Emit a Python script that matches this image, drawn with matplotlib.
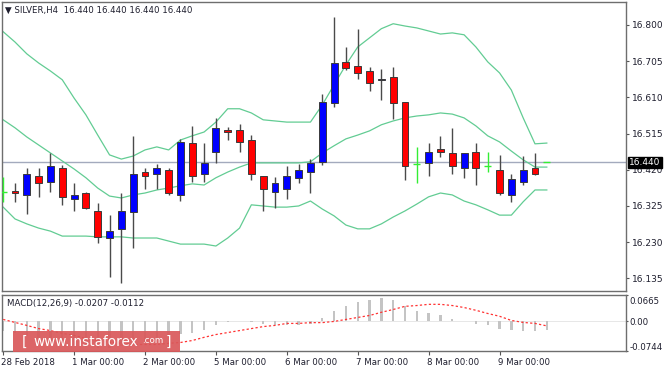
import matplotlib
matplotlib.use("Agg")
import matplotlib.pyplot as plt
from matplotlib.patches import Rectangle
from matplotlib.transforms import ScaledTranslation
import numpy as np

plt.rcParams["font.family"] = ["DejaVu Sans"]

# ── H4 bars, 28 Feb - 9 Mar 2018 ──────────────────────────
OPEN = [16.362, 16.364, 16.354, 16.404, 16.388, 16.425, 16.343, 16.359, 16.312, 16.241,
        16.265, 16.309, 16.414, 16.409, 16.420, 16.354, 16.490, 16.409, 16.467, 16.524,
        16.524, 16.498, 16.404, 16.362, 16.370, 16.399, 16.414, 16.440, 16.595, 16.703,
        16.692, 16.679, 16.655, 16.664, 16.598, 16.435, 16.438, 16.475, 16.464, 16.425,
        16.467, 16.430, 16.420, 16.354, 16.388, 16.425, 16.440]
HIGH = [16.401, 16.385, 16.425, 16.425, 16.464, 16.433, 16.385, 16.362, 16.333, 16.301,
        16.359, 16.509, 16.425, 16.435, 16.425, 16.501, 16.535, 16.490, 16.556, 16.532,
        16.540, 16.511, 16.404, 16.401, 16.430, 16.435, 16.448, 16.619, 16.821, 16.742,
        16.790, 16.690, 16.685, 16.690, 16.598, 16.480, 16.490, 16.509, 16.530, 16.464,
        16.490, 16.467, 16.459, 16.409, 16.456, 16.464, 16.440]
LOW = [16.336, 16.336, 16.304, 16.349, 16.362, 16.328, 16.312, 16.318, 16.228, 16.139,
       16.123, 16.215, 16.370, 16.370, 16.354, 16.338, 16.388, 16.388, 16.438, 16.498,
       16.467, 16.393, 16.312, 16.320, 16.343, 16.385, 16.359, 16.433, 16.585, 16.682,
       16.658, 16.627, 16.603, 16.553, 16.393, 16.385, 16.404, 16.454, 16.409, 16.399,
       16.380, 16.414, 16.354, 16.336, 16.380, 16.406, 16.440]
CLOSE = [16.362, 16.359, 16.409, 16.385, 16.430, 16.349, 16.354, 16.320, 16.244, 16.259,
         16.312, 16.409, 16.404, 16.425, 16.359, 16.493, 16.404, 16.438, 16.530, 16.519,
         16.493, 16.409, 16.370, 16.385, 16.404, 16.420, 16.438, 16.598, 16.700, 16.687,
         16.674, 16.648, 16.657, 16.595, 16.430, 16.435, 16.467, 16.467, 16.430, 16.464,
         16.425, 16.430, 16.359, 16.396, 16.420, 16.409, 16.440]

# ── Bollinger bands ──
BB_UPPER = [16.782, 16.755, 16.724, 16.700, 16.679, 16.656, 16.608, 16.564, 16.511, 16.459,
            16.448, 16.456, 16.472, 16.480, 16.472, 16.498, 16.509, 16.519, 16.545, 16.580,
            16.580, 16.569, 16.551, 16.548, 16.545, 16.545, 16.545, 16.590, 16.643, 16.695,
            16.742, 16.766, 16.790, 16.803, 16.797, 16.792, 16.784, 16.776, 16.779, 16.774,
            16.742, 16.703, 16.674, 16.629, 16.556, 16.488, 16.490]
BB_MID = [16.551, 16.530, 16.506, 16.485, 16.464, 16.443, 16.422, 16.399, 16.372, 16.351,
          16.346, 16.354, 16.359, 16.367, 16.372, 16.378, 16.383, 16.380, 16.399, 16.414,
          16.427, 16.438, 16.438, 16.438, 16.438, 16.438, 16.441, 16.464, 16.483, 16.501,
          16.511, 16.522, 16.538, 16.548, 16.556, 16.561, 16.564, 16.569, 16.566, 16.556,
          16.535, 16.509, 16.493, 16.469, 16.446, 16.427, 16.427]
BB_LOWER = [16.322, 16.291, 16.278, 16.267, 16.259, 16.246, 16.246, 16.246, 16.244, 16.244,
            16.244, 16.241, 16.241, 16.241, 16.233, 16.225, 16.225, 16.225, 16.220, 16.241,
            16.267, 16.328, 16.325, 16.322, 16.322, 16.325, 16.338, 16.317, 16.299, 16.275,
            16.265, 16.265, 16.278, 16.296, 16.312, 16.330, 16.349, 16.359, 16.354, 16.338,
            16.328, 16.315, 16.301, 16.301, 16.336, 16.367, 16.367]

# ── MACD(12,26,9) ──
MACD = [-0.025, -0.030, -0.036, -0.042, -0.048, -0.055, -0.060, -0.064, -0.067, -0.066,
        -0.062, -0.055, -0.048, -0.042, -0.037, -0.032, -0.028, -0.022, -0.010, -0.002,
        0.002, -0.001, -0.007, -0.010, -0.010, -0.009, -0.006, 0.008, 0.027, 0.040,
        0.050, 0.055, 0.058, 0.055, 0.040, 0.027, 0.020, 0.015, 0.005, 0.001,
        -0.007, -0.010, -0.019, -0.022, -0.023, -0.023, -0.0207]
SIGNAL = [0.005, -0.0025, -0.010, -0.018, -0.023, -0.030, -0.035, -0.043, -0.048, -0.053,
          -0.055, -0.058, -0.058, -0.058, -0.055, -0.053, -0.048, -0.040, -0.033, -0.028,
          -0.023, -0.018, -0.013, -0.010, -0.005, -0.005, -0.003, -0.003, 0.000, 0.005,
          0.010, 0.015, 0.023, 0.030, 0.038, 0.040, 0.043, 0.043, 0.040, 0.035,
          0.028, 0.020, 0.013, 0.0025, -0.0025, -0.005, -0.0112]

PRICE_TICKS = [16.800, 16.705, 16.610, 16.515, 16.420, 16.325, 16.230, 16.135]
LAST_PRICE = 16.440
DATE_IDX = [0, 6, 12, 18, 24, 30, 36, 42]
DATE_LABELS = ["28 Feb 2018", "1 Mar 00:00", "2 Mar 00:00", "5 Mar 00:00",
               "6 Mar 00:00", "7 Mar 00:00", "8 Mar 00:00", "9 Mar 00:00"]

W, H = 664, 369
fig = plt.figure(figsize=(W / 100, H / 100), dpi=100)
fig.patch.set_facecolor("white")

ax = fig.add_axes([2 / W, 1 - 291 / H, 624 / W, 289 / H])
ax2 = fig.add_axes([2 / W, 1 - 351 / H, 624 / W, 56 / H])

x = np.arange(len(OPEN))
TXT = "#1e1e2e"
FS = 6.2

# ── price line + bands ──
ax.axhline(LAST_PRICE, color="#a3aabd", lw=1, zorder=1)
band_kw = dict(color="#62cc93", lw=0.9, zorder=2)
ax.plot(x, BB_UPPER, **band_kw)
ax.plot(x, BB_MID, **band_kw)
ax.plot(x, BB_LOWER, **band_kw)

# ── candles ──
bw = 0.58
for i in x:
    o, h, l, c = OPEN[i], HIGH[i], LOW[i], CLOSE[i]
    if abs(c - o) < 1e-9:
        ax.vlines(i, l, h, color="#33ee33", lw=1, zorder=3)
        ax.hlines(o, i - bw / 2, i + bw / 2, color="#33ee33", lw=1, zorder=4)
        continue
    ax.vlines(i, l, h, color="#4a4a4a", lw=1, zorder=3)
    fc = "#0000ff" if c > o else "#ff0000"
    ax.add_patch(Rectangle((i - bw / 2, min(o, c)), bw, abs(c - o),
                           fc=fc, ec="#3a3a3a", lw=0.7, zorder=4))

ax.set_xlim(-0.1, 52.7)
ax.set_ylim(16.102, 16.860)
ax.set_xticks([])
ax.yaxis.tick_right()
ax.set_yticks(PRICE_TICKS)
ax.set_yticklabels([f"{v:.3f}" for v in PRICE_TICKS])
ax.tick_params(axis="y", length=2.5, width=0.8, pad=2, labelsize=FS + 0.3,
               labelcolor=TXT, color="#555555")

ax.annotate(f"{LAST_PRICE:.3f}", xy=(1, LAST_PRICE),
            xycoords=("axes fraction", "data"), xytext=(2.2, 0),
            textcoords="offset points", ha="left", va="center",
            fontsize=FS + 0.3, color="white", zorder=10, annotation_clip=False,
            bbox=dict(boxstyle="square,pad=0.12", fc="black", ec="black"))

ax.text(0.005, 0.985, "▼ SILVER,H4  16.440 16.440 16.440 16.440",
        transform=ax.transAxes, ha="left", va="top", fontsize=FS, color=TXT)

# ── MACD panel ──
ax2.axhline(0, color="#dddddd", lw=0.5, zorder=0)
ax2.bar(x, MACD, width=0.2, color="#c4c4c4", zorder=2)
ax2.plot(x, SIGNAL, color="#ff3333", lw=0.9, ls=(0, (1.8, 1.8)), zorder=3)
ax2.set_xlim(-0.1, 52.7)
ax2.set_ylim(-0.0744, 0.0665)
ax2.yaxis.tick_right()
ax2.set_yticks([0.0665, 0.0, -0.0744])
ax2.set_yticklabels(["0.0665", "0.00", "-0.0744"])
ax2.tick_params(axis="y", length=1.5, width=0.8, pad=1, labelsize=FS,
                labelcolor=TXT, color="#555555")
labs = ax2.get_yticklabels()
labs[0].set_transform(labs[0].get_transform() + ScaledTranslation(0, -6 / 100, fig.dpi_scale_trans))
labs[2].set_transform(labs[2].get_transform() + ScaledTranslation(0, 4 / 100, fig.dpi_scale_trans))

ax2.set_xticks(DATE_IDX)
ax2.set_xticklabels(DATE_LABELS, ha="left")
ax2.tick_params(axis="x", length=3, width=0.8, pad=2, labelsize=FS,
                labelcolor=TXT, color="#555555")
for lab in ax2.get_xticklabels():
    lab.set_transform(lab.get_transform() + ScaledTranslation(-2 / 100, 0, fig.dpi_scale_trans))

ax2.text(0.008, 0.93, "MACD(12,26,9) -0.0207 -0.0112", transform=ax2.transAxes,
         ha="left", va="top", fontsize=FS, color=TXT)

for a in (ax, ax2):
    for s in a.spines.values():
        s.set_color("#6e6e6e")
        s.set_linewidth(1.0)

# ── watermark ──
fig.add_artist(Rectangle((13 / W, 1 - 352 / H), 167 / W, 21 / H, transform=fig.transFigure,
                         fc="#d9585a", ec="none", alpha=0.92, zorder=20))
wy = 1 - 342 / H
fig.text(22 / W, wy, "[", fontsize=10, color="white", ha="left", va="center", zorder=21)
fig.text(33 / W, wy, "www.instaforex", fontsize=9.8, color="white", ha="left", va="center", zorder=21)
fig.text(142 / W, wy + 0.004, ".com", fontsize=6.3, color="white", ha="left", va="center", zorder=21)
fig.text(166 / W, wy, "]", fontsize=10, color="white", ha="left", va="center", zorder=21)

fig.savefig("out.png", dpi=100)
